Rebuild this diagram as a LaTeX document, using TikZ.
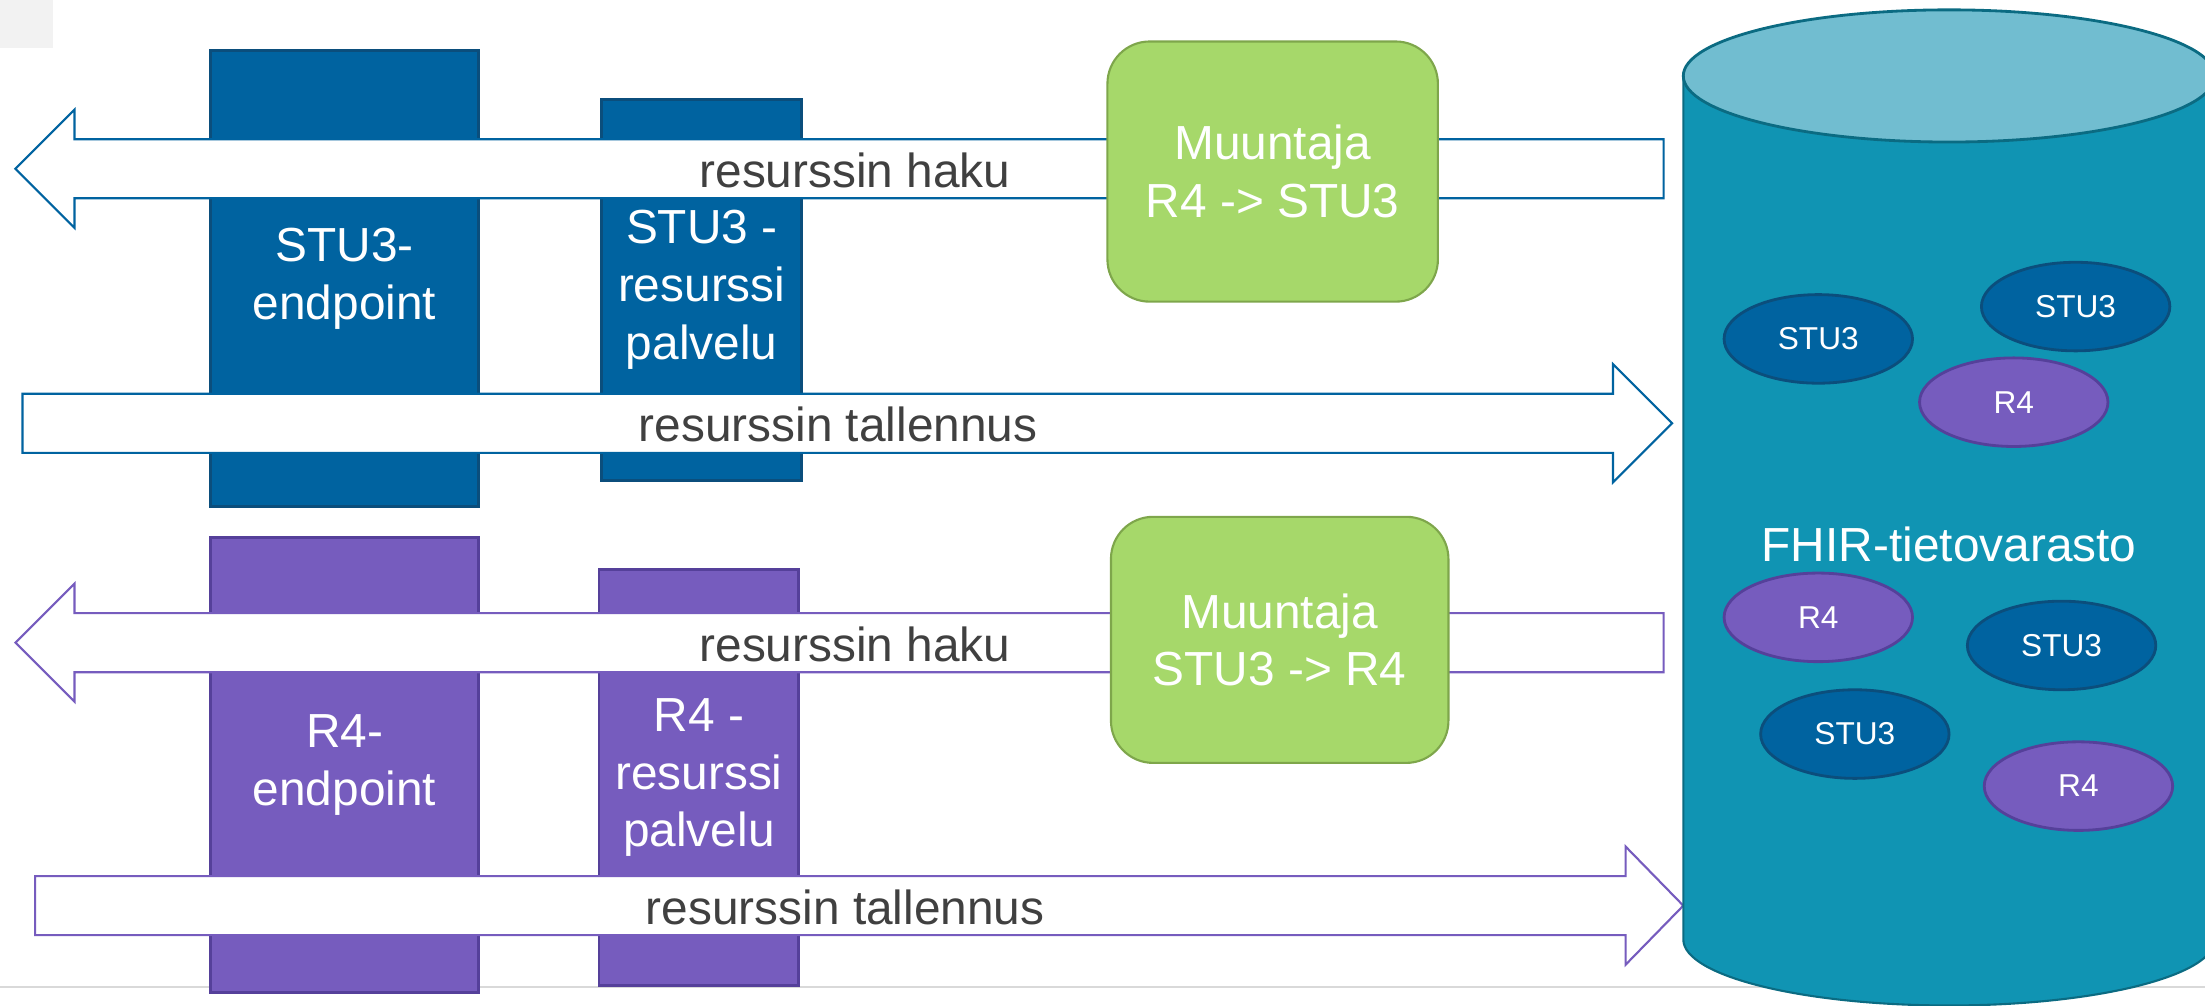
\documentclass[tikz,border=0pt]{standalone}
\usepackage{fontspec}
\setmainfont{Liberation Sans}
\usepackage{xcolor}
\usepackage{tikz}
\usetikzlibrary{positioning,calc, shapes}
\definecolor{stublue}{HTML}{0063A0}
\definecolor{stuedge}{HTML}{0B4E7C}
\definecolor{rpurple}{HTML}{765CBE}
\definecolor{redge}{HTML}{55409A}
\definecolor{muugreen}{HTML}{A6D86A}
\definecolor{muuedge}{HTML}{7EA64B}
\definecolor{cylbody}{HTML}{1094B3}
\definecolor{cyltop}{HTML}{71BDD0}
\definecolor{cyledge}{HTML}{0B6B82}
\definecolor{lblgrey}{HTML}{404040}
\tikzstyle{blk}= [rectangle, inner sep=0pt, line width=2pt, text=white, align=center, font=\fontsize{34}{41}\selectfont]
\tikzstyle{stublk}= [blk, draw=stuedge, fill=stublue]
\tikzstyle{rblk}= [blk, draw=redge, fill=rpurple]
\tikzstyle{muu}= [rectangle, rounded corners=30pt, inner sep=0pt, draw=muuedge, fill=muugreen, line width=1.5pt, text=white, align=center, font=\fontsize{34}{41}\selectfont]
\tikzstyle{res}= [ellipse, inner sep=0pt, minimum width=134pt, minimum height=63pt, line width=2pt, text=white, font=\fontsize{22.5}{27}\selectfont]
\tikzstyle{stures}= [res, draw=stuedge, fill=stublue]
\tikzstyle{rres}= [res, draw=redge, fill=rpurple]
\tikzstyle{lbl}= [text=lblgrey, inner sep=0pt, font=\fontsize{34}{41}\selectfont]

\begin{document}
\begin{tikzpicture}[x=1pt, y=-1pt]
				\useasboundingbox (0, 0) rectangle (1568, 715);
				\fill[black!5] (0, 0) rectangle (38, 34);
				\draw[black!15, line width=1pt] (0, 702) -- (1568, 702);
				% STU3 side
				\node[stublk, minimum width=191pt, minimum height=324pt] (stuend) at (245, 198) {STU3-\\endpoint};
				\node[stublk, minimum width=142pt, minimum height=271pt] (stures) at (499, 206) {STU3 -\\resurssi\\palvelu};
				\draw[stublue, fill=white, line width=1.5pt] (1183, 99) -- (53, 99) -- (53, 78) -- (11, 120) -- (53, 162) -- (53, 141) -- (1183, 141) -- cycle;
				\node[lbl] (haku1) at (608, 121) {resurssin haku};
				\draw[stublue, fill=white, line width=1.5pt] (16, 280) -- (1147, 280) -- (1147, 259) -- (1189, 301) -- (1147, 343) -- (1147, 322) -- (16, 322) -- cycle;
				\node[lbl] (tall1) at (596, 302) {resurssin tallennus};
				\node[muu, minimum width=235pt, minimum height=185pt] (stumuu) at (905, 122) {Muuntaja\\R4 -> STU3};
				% R4 side
				\node[rblk, minimum width=191pt, minimum height=324pt] (r4end) at (245, 544) {R4-\\endpoint};
				\node[rblk, minimum width=142pt, minimum height=296pt] (r4res) at (497, 553) {R4 -\\resurssi\\palvelu};
				\draw[rpurple, fill=white, line width=1.5pt] (1183, 436) -- (53, 436) -- (53, 415) -- (11, 457) -- (53, 499) -- (53, 478) -- (1183, 478) -- cycle;
				\node[lbl] (haku2) at (608, 458) {resurssin haku};
				\draw[rpurple, fill=white, line width=1.5pt] (25, 623) -- (1156, 623) -- (1156, 602) -- (1197, 644) -- (1156, 686) -- (1156, 665) -- (25, 665) -- cycle;
				\node[lbl] (tall2) at (601, 645) {resurssin tallennus};
				\node[muu, minimum width=240pt, minimum height=175pt] (r4muu) at (910, 455) {Muuntaja\\STU3 -> R4};
				% storage
				\draw[cyledge, fill=cylbody, line width=1.5pt] (1197, 54) -- (1197, 668) arc[start angle=180, end angle=0, x radius=189, y radius=47] -- (1575, 54) -- cycle;
				\draw[cyledge, fill=cyltop, line width=2pt] (1386, 54) ellipse [x radius=189, y radius=47];
				\node[text=white, font=\fontsize{34}{41}\selectfont] (fhir) at (1386, 387) {FHIR-tietovarasto};
				\node[stures] (e1) at (1293, 241) {STU3};
				\node[stures] (e2) at (1476, 218) {STU3};
				\node[rres] (e3) at (1432, 286) {R4};
				\node[rres] (e4) at (1293, 439) {R4};
				\node[stures] (e5) at (1466, 459) {STU3};
				\node[stures] (e6) at (1319, 522) {STU3};
				\node[rres] (e7) at (1478, 559) {R4};
			\end{tikzpicture}
\end{document}
